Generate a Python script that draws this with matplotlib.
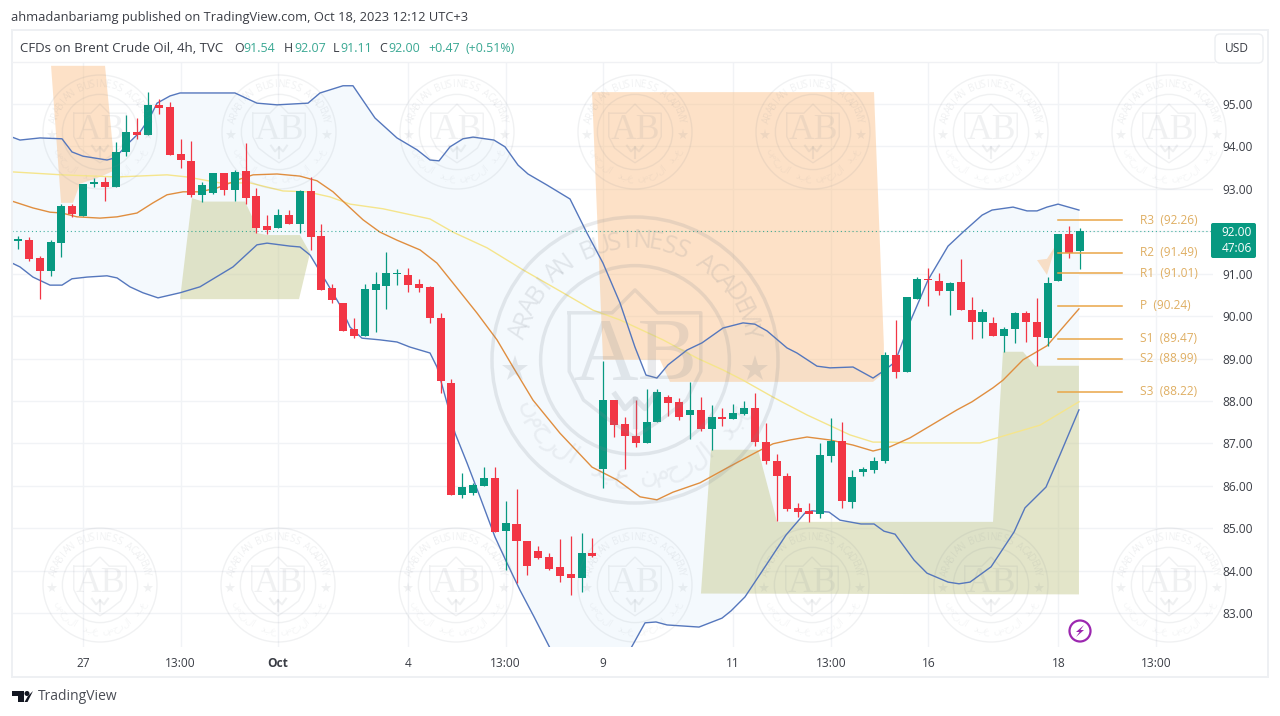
import matplotlib
matplotlib.use('Agg')
import matplotlib.pyplot as plt
import numpy as np
from matplotlib.patches import Circle, FancyBboxPatch, Polygon, Rectangle

plt.rcParams['font.family'] = ['Open Sans', 'DejaVu Sans']

opens = [91.77,91.80,91.37,91.07,91.73,92.60,92.37,93.12,93.16,93.04,
         93.88,94.35,94.28,94.97,94.92,93.82,93.66,92.86,92.91,93.37,
         92.97,93.41,92.83,92.12,92.08,92.38,92.17,92.95,91.89,90.66,
         90.32,89.69,89.53,90.62,90.72,90.99,90.97,90.76,90.68,89.96,
         88.43,85.78,85.82,86.00,86.18,84.93,85.11,84.69,84.46,84.31,
         84.09,83.92,83.82,84.42,86.40,88.02,87.46,87.18,87.02,87.50,
         88.10,87.98,87.67,87.79,87.33,87.62,87.58,87.70,87.83,87.03,
         86.59,86.24,85.47,85.41,85.33,86.70,87.06,85.62,86.33,86.37,
         86.58,89.08,88.69,90.41,90.88,90.82,90.59,90.80,90.14,89.86,
         89.83,89.53,89.70,90.07,89.86,89.49,90.83,91.93,91.54]
highs = [91.90,91.87,91.42,91.79,92.64,92.64,93.12,93.26,93.29,94.11,
         94.74,94.66,95.29,95.11,95.04,94.18,94.13,93.17,93.37,93.37,
         93.45,94.07,93.01,92.38,92.52,92.50,92.97,93.27,92.17,90.76,
         90.32,89.95,90.75,91.05,91.50,91.10,91.13,90.88,90.71,90.07,
         88.52,86.30,86.06,86.44,86.44,85.65,85.92,84.71,84.58,84.42,
         84.74,84.82,84.89,84.78,88.94,88.02,87.62,88.02,88.29,88.29,
         88.14,88.06,88.44,88.09,87.91,87.83,87.93,88.00,88.18,87.47,
         86.74,86.31,85.60,85.59,87.00,87.59,87.51,86.37,86.45,86.67,
         89.16,89.91,90.44,90.92,91.13,91.02,90.80,91.34,90.44,90.17,
         89.99,89.74,90.10,90.13,90.42,90.92,91.93,92.13,92.07]
lows = [91.58,91.31,90.40,90.95,91.40,92.34,92.37,93.04,92.72,93.04,
        93.78,94.17,94.28,94.76,93.80,93.48,92.80,92.70,92.88,92.86,
        92.71,92.64,91.95,91.94,92.08,92.17,91.97,91.56,90.62,90.30,
        89.66,89.49,89.53,89.63,90.16,90.73,90.58,90.58,89.83,88.18,
        85.78,85.72,85.78,86.00,84.92,84.02,83.71,83.90,84.27,84.02,
        83.74,83.42,83.50,84.31,85.95,87.16,86.39,86.92,87.02,87.50,
        87.65,87.54,87.10,87.30,86.85,87.41,87.58,87.67,86.94,86.51,
        85.17,85.41,85.27,85.14,85.23,86.56,85.47,85.47,86.23,86.31,
        86.53,88.53,88.69,90.41,90.24,90.49,90.03,90.14,89.46,89.49,
        89.52,89.16,89.36,89.40,88.83,89.30,90.83,91.37,91.11]
closes = [91.81,91.35,91.06,91.74,92.60,92.41,93.12,93.15,93.04,93.87,
          94.33,94.27,94.98,94.90,93.80,93.67,92.85,93.08,93.37,92.97,
          93.39,92.79,92.08,92.03,92.38,92.17,92.96,91.87,90.62,90.39,
          89.66,89.53,90.63,90.75,91.01,91.02,90.73,90.67,89.95,88.46,
          85.78,85.97,86.01,86.18,84.92,85.13,84.70,84.12,84.30,84.04,
          83.88,83.83,84.42,84.34,88.02,87.44,87.18,87.01,87.50,88.21,
          87.96,87.62,87.79,87.33,87.61,87.58,87.72,87.83,87.04,86.58,
          86.22,85.45,85.38,85.33,86.72,87.06,85.64,86.21,86.39,86.58,
          89.08,88.69,90.44,90.88,90.84,90.59,90.77,90.14,89.86,90.10,
          89.53,89.70,90.07,89.86,89.51,90.77,91.93,91.48,92.00]

upper_x = [-0.55,0.18,2.03,4.06,4.98,6.0,8.21,8.95,10.33,11.26,12.18,12.83,14.03,14.95,20.02,22.05,23.9,26.76,27.87,29.99,
           30.91,32.94,34.97,36.82,38.02,38.85,39.86,41.06,41.99,43.92,44.94,46.14,47.06,48.81,50.94,52.5,53.98,55.55,56.93,57.95,
           58.96,59.98,61.73,63.12,65.06,66.9,68.0,69.12,70.96,71.88,73.73,74.93,77.05,78.9,80.0,80.93,82.31,83.97,85.82,87.2,
           88.96,89.88,91.82,93.11,94.03,94.95,95.97,97.9]
upper_y = [94.22,94.15,94.20,94.18,93.87,93.77,93.68,93.73,94.11,94.34,94.69,95.02,95.19,95.26,95.26,95.02,94.98,95.02,95.26,95.43,
           95.43,94.67,94.2,93.92,93.68,93.66,93.99,94.18,94.22,94.15,93.99,93.56,93.35,93.09,92.76,91.96,91.25,90.31,89.27,88.61,
           88.54,88.85,89.2,89.37,89.72,89.84,89.81,89.65,89.25,89.13,88.82,88.78,88.8,88.54,88.73,88.92,89.86,90.85,91.65,91.98,
           92.38,92.5,92.57,92.48,92.48,92.57,92.64,92.5]
lower_x = [-0.55,0.18,1.38,2.95,4.06,4.98,6.37,8.21,9.14,10.33,11.53,12.92,14.95,16.79,19.84,22.05,22.98,25.1,26.02,26.95,
           28.51,29.71,30.64,31.74,33.4,34.97,36.17,38.02,38.66,39.59,40.33,41.43,42.63,44.02,45.12,46.32,47.62,49.18,52.8,56.47,
           57.86,58.87,59.89,62.84,64.96,65.79,67.08,68.75,70.87,72.62,73.27,74.84,75.85,77.79,78.99,79.91,80.93,82.68,83.88,85.82,
           86.83,87.85,89.79,91.91,92.92,94.86,96.15,97.9]
lower_y = [91.25,91.16,90.92,90.73,90.73,90.88,90.92,90.95,90.9,90.69,90.55,90.43,90.55,90.69,91.16,91.68,91.72,91.65,91.63,91.44,
           90.78,90.26,89.74,89.48,89.44,89.39,89.27,89.13,88.8,87.95,87.24,86.54,85.74,84.79,84.18,83.54,82.91,82.13,81.5,82.13,
           82.77,82.79,82.72,82.67,82.88,83.05,83.38,84.02,84.84,85.36,85.41,85.38,85.19,85.1,85.1,84.93,84.86,84.25,83.94,83.73,
           83.69,83.73,84.09,84.91,85.48,85.97,86.73,87.79]
basis_x = [-0.55,1.38,2.95,4.06,5.44,7.57,9.14,10.98,12.46,13.75,15.23,16.79,18.36,20.49,21.69,23.9,26.02,27.59,29.07,30.36,
           31.84,33.4,34.97,37.1,38.66,40.14,42.36,44.2,45.68,47.52,50.01,52.97,55.27,57.4,58.96,60.44,62.93,65.42,68.19,69.67,
           71.24,72.81,74.93,77.05,78.9,80.47,82.31,86.65,88.03,89.97,90.89,92.74,94.95,97.9]
basis_y = [92.71,92.55,92.45,92.43,92.34,92.31,92.34,92.43,92.67,92.86,92.93,92.93,93.02,93.23,93.33,93.35,93.3,93.19,92.93,92.62,
           92.27,91.98,91.79,91.56,91.25,90.78,90.07,89.44,88.8,88.02,87.24,86.44,86.14,85.74,85.67,85.85,86.07,86.42,86.8,86.99,
           87.08,87.15,87.08,86.96,86.82,86.92,87.13,87.79,87.98,88.31,88.49,88.97,89.3,90.17]
slow_x = [-0.55,4.06,9.14,13.75,15.6,18.64,21.41,24.45,26.67,28.79,30.64,33.68,38.02,40.14,43.28,46.6,50.29,53.06,55.55,59.52,
          62.66,65.06,66.9,69.67,72.81,76.77,78.9,80.47,82.31,88.77,90.61,94.31,97.9]
slow_y = [93.4,93.33,93.28,93.33,93.28,93.14,93.14,92.95,92.93,92.81,92.64,92.53,92.29,91.98,91.61,91.09,90.55,90.14,89.91,89.44,
          89.01,88.73,88.49,88.09,87.67,87.2,87.03,87.03,87.01,87.01,87.15,87.43,87.98]

orange_zones = [
    [(3.05,95.90),(8.03,95.90),(8.95,93.44),(7.57,93.28),(5.72,93.12),(5.08,92.67),(3.97,92.67)],
    [(52.97,95.28),(78.99,95.28),(79.9,89.32),(79.9,88.66),(78.9,88.45),(60.16,88.45),(59.24,88.97),(53.98,88.97)],
    [(94.03,91.32),(94.95,91.35),(95.78,91.68),(94.95,90.97)],
]
green_zones = [
    [(14.95,90.40),(16.06,92.78),(17.07,92.70),(20.95,92.70),(21.87,92.2),(22.05,91.96),(22.98,91.91),(26.02,91.91),(26.95,91.49),(25.93,90.40)],
    [(63.02,83.46),(63.95,86.85),(68.29,86.85),(70.04,85.15),(89.97,85.15),(90.89,89.16),(92.74,89.16),(93.85,88.83),(97.9,88.83),(97.9,83.44)],
]

pivot_names = ['R3', 'R2', 'R1', 'P', 'S1', 'S2', 'S3']
pivot_values = [92.26, 91.49, 91.01, 90.24, 89.47, 88.99, 88.22]

price_ticks = [95, 94, 93, 92, 91, 90, 89, 88, 87, 86, 85, 84, 83]
time_ticks = [6, 15, 24, 36, 45, 54, 66, 75, 84, 96, 105]
time_labels = ['27', '13:00', 'Oct', '4', '13:00', '9', '11', '13:00', '16', '18', '13:00']

logo_row1 = [100, 279, 457, 635, 813, 991, 1169]
logo_row2 = [100, 278, 456, 635, 812, 991, 1169]

GREEN = '#089981'
RED = '#f23645'
BLUE = '#5577bd'
ORANGE = '#e08e3f'
YELLOW = '#f5e58c'
PIVOT = '#e9a648'
PIVOT_TEXT = '#dfae62'
TEXT = '#3a3d45'
HEAD_GREEN = '#3aa893'
MARK = '#7d858f'


def draw_logo(ax, cx, cy, R, alpha):
    lw = R / 57 * 1.0
    ax.add_patch(Circle((cx, cy), R, fill=False, ec=MARK, lw=lw, alpha=alpha, zorder=5))
    ax.add_patch(Circle((cx, cy), R * 0.66, fill=False, ec=MARK, lw=lw, alpha=alpha, zorder=5))
    # shield
    sx = np.array([-0.46, -0.16, 0, 0.16, 0.46, 0.46, 0.36, 0.18, 0, -0.18, -0.36, -0.46, -0.46]) * R + cx
    sy = np.array([-0.33, -0.33, -0.49, -0.33, -0.33, 0.08, 0.28, 0.42, 0.54, 0.42, 0.28, 0.08, -0.33]) * R + cy
    ax.plot(sx, sy, color=MARK, lw=lw, alpha=alpha, zorder=5)
    ax.text(cx, cy - 0.02 * R, 'AB', ha='center', va='center', family='Liberation Serif',
            fontsize=0.45 * R, color=MARK, alpha=alpha, zorder=5)
    # little crest under the letters
    ax.plot(cx + np.array([-0.14, -0.07, 0, 0.07, 0.14]) * R, cy + np.array([0.24, 0.34, 0.27, 0.34, 0.24]) * R,
            color=MARK, lw=lw * 1.5, alpha=alpha, zorder=5)
    ax.plot([cx, cx], [cy + 0.27 * R, cy + 0.46 * R], color=MARK, lw=lw * 1.5, alpha=alpha, zorder=5)
    for side in (-1, 1):
        ax.plot(cx + side * 0.84 * R, cy + 0.06 * R, marker='*', ms=R * 0.14, color=MARK, mew=0, alpha=alpha, zorder=5)
    # english name round the top
    name = 'ARABIAN BUSINESS ACADEMY'
    angles = np.linspace(166, 14, len(name))
    for ch, a in zip(name, angles):
        rad = np.deg2rad(a)
        ax.text(cx + 0.83 * R * np.cos(rad), cy - 0.83 * R * np.sin(rad), ch, rotation=a - 90,
                rotation_mode='anchor', ha='center', va='center', fontsize=R * 0.125,
                color=MARK, alpha=alpha, zorder=5)
    # arabic name round the bottom
    arabic = 'عبد الرحمن عبد الرحمن'
    angles = np.linspace(205, 335, len(arabic))
    for ch, a in zip(arabic[::-1], angles):
        rad = np.deg2rad(a)
        ax.text(cx + 0.82 * R * np.cos(rad), cy - 0.82 * R * np.sin(rad), ch, rotation=a + 90,
                rotation_mode='anchor', ha='center', va='center', fontsize=R * 0.13,
                color=MARK, alpha=alpha * 0.6, zorder=5)


def main():
    fig = plt.figure(figsize=(12.8, 7.16), dpi=100)
    ax = fig.add_axes([12 / 1280, (716 - 647) / 716, (1213 - 12) / 1280, (647 - 62) / 716])
    ax.set_xlim(-0.554, 110.27)
    ax.set_ylim(82.2, 95.99)

    ax.set_xticks(time_ticks)
    ax.set_xticklabels(time_labels)
    ax.set_yticks(price_ticks)
    ax.set_yticklabels(['' if p == 92 else '%.2f' % p for p in price_ticks])
    ax.yaxis.tick_right()
    ax.tick_params(axis='x', length=0, pad=7, labelsize=8.6, labelcolor=TEXT)
    ax.tick_params(axis='y', length=0, pad=7, labelsize=8.6, labelcolor=TEXT)
    ax.get_xticklabels()[2].set_fontweight('bold')
    ax.grid(True, color='#f1f3f6', lw=1)
    ax.set_axisbelow(True)
    for s in ax.spines.values():
        s.set_visible(False)

    # band fill + zones
    ax.fill(np.r_[upper_x, lower_x[::-1]], np.r_[upper_y, lower_y[::-1]], color='#f4f9fd', lw=0, zorder=1)
    for zone in orange_zones:
        ax.add_patch(Polygon(zone, closed=True, fc='#fbc189', ec='none', alpha=0.47, zorder=2))
    for zone in green_zones:
        ax.add_patch(Polygon(zone, closed=True, fc='#ccd09d', ec='none', alpha=0.55, zorder=2))

    ax.plot(slow_x, slow_y, color=YELLOW, lw=1.0, zorder=3)
    ax.plot(basis_x, basis_y, color=ORANGE, lw=1.0, zorder=3)
    ax.plot(upper_x, upper_y, color=BLUE, lw=1.0, zorder=3)
    ax.plot(lower_x, lower_y, color=BLUE, lw=1.0, zorder=3)

    ax.axhline(closes[-1], color=GREEN, lw=0.8, ls=(0, (1, 2.5)), alpha=0.75, zorder=3)

    # candles
    idx = np.arange(len(opens))
    o = np.array(opens)
    c = np.array(closes)
    colors = [GREEN if b >= a else RED for a, b in zip(o, c)]
    ax.vlines(idx, lows, highs, colors=colors, lw=0.9, zorder=4)
    ax.bar(idx, np.abs(c - o), bottom=np.minimum(o, c), width=0.74, color=colors, lw=0, zorder=4)

    # pivots
    for name, val in zip(pivot_names, pivot_values):
        ax.plot([96, 101.9], [val, val], color=PIVOT, lw=1.1, zorder=4)
        ax.text(103.5, val, '%s  (%.2f)' % (name, val), color=PIVOT_TEXT, fontsize=8.6, va='center', ha='left', zorder=4)

    # everything else in picture pixels
    top = fig.add_axes([0, 0, 1, 1], facecolor='none')
    top.set_xlim(0, 1280)
    top.set_ylim(716, 0)
    top.axis('off')

    top.add_patch(Rectangle((12, 30), 1256, 647, fill=False, ec='#eef0f3', lw=1.4))
    top.plot([12, 1214], [62, 62], color='#f0f1f4', lw=1)
    top.add_patch(FancyBboxPatch((1218, 37), 42, 23, boxstyle='round,pad=3,rounding_size=5', fc='white', ec='#eceef1', lw=1))
    top.text(1237, 48, 'USD', ha='center', va='center', fontsize=8.6, color=TEXT)

    top.text(11, 17, 'ahmadanbariamg published on TradingView.com, Oct 18, 2023 12:12 UTC+3',
             ha='left', va='center', fontsize=9.3, color=TEXT)
    top.text(20, 48, 'CFDs on Brent Crude Oil, 4h, TVC', ha='left', va='center', fontsize=9.5, color=TEXT)
    head = [(234, 'O', TEXT), (243, '91.54', HEAD_GREEN), (284, 'H', TEXT), (294, '92.07', HEAD_GREEN),
            (333, 'L', TEXT), (340, '91.11', HEAD_GREEN), (379, 'C', TEXT), (388, '92.00', HEAD_GREEN),
            (428, '+0.47', HEAD_GREEN), (465, '(+0.51%)', HEAD_GREEN)]
    for x, s, col in head:
        top.text(x, 48, s, ha='left', va='center', fontsize=8.9, color=col)

    # last price box
    top.add_patch(FancyBboxPatch((1212, 224), 43, 33, boxstyle='round,pad=1,rounding_size=2', fc=GREEN, ec='none', zorder=6))
    top.text(1252, 232, '92.00', ha='right', va='center', fontsize=8.6, color='white', zorder=7)
    top.text(1252, 248, '47:06', ha='right', va='center', fontsize=8.6, color='white', zorder=7)

    # lightning badge
    top.add_patch(Circle((1080, 631), 10.5, fc='white', ec='#9c27b0', lw=1.6, zorder=6))
    top.add_patch(Polygon([(1084, 625), (1076, 632), (1079.5, 632), (1076, 637), (1084, 630), (1080.5, 630)],
                          closed=True, fc='#9c27b0', ec='none', zorder=7))

    # tradingview logo
    top.add_patch(Polygon([(12, 691), (24, 691), (24, 702), (18, 702), (18, 696), (12, 696)], closed=True, fc='#131722', ec='none'))
    top.add_patch(Circle((27, 693.5), 2.5, fc='#131722', ec='none'))
    top.add_patch(Polygon([(27.5, 702), (33, 691), (28, 696), (24.5, 702)], closed=True, fc='#131722', ec='none'))
    top.text(38, 697, 'TradingView', ha='left', va='center', fontsize=10, color='#4a4d55')

    for x in logo_row1:
        draw_logo(top, x, 132, 57, 0.11)
    for x in logo_row2:
        draw_logo(top, x, 585, 57, 0.11)
    draw_logo(top, 635, 360, 143, 0.17)

    fig.savefig('out.png', dpi=100)


if __name__ == '__main__':
    main()
